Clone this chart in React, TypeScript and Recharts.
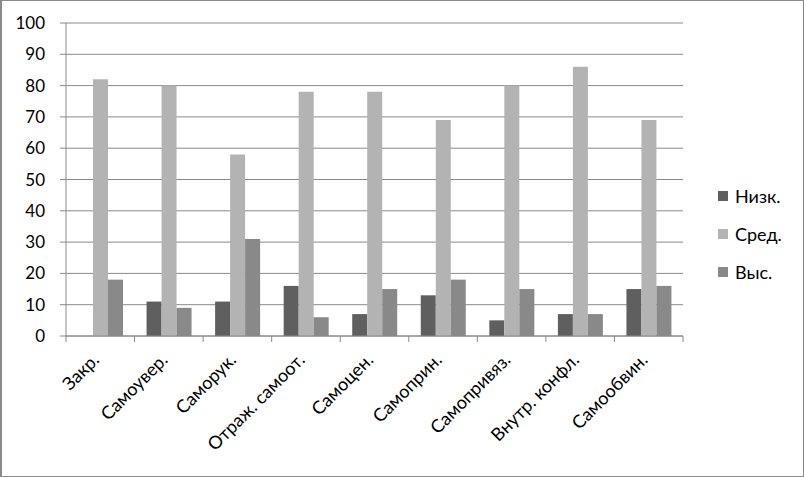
import { BarChart, Bar, XAxis, YAxis, CartesianGrid, Legend } from 'recharts';

const categories = ['Закр.', 'Самоувер.', 'Саморук.', 'Отраж. самоот.', 'Самоцен.', 'Самоприн.', 'Самопривяз.', 'Внутр. конфл.', 'Самообвин.'];
const low = [0, 11, 11, 16, 7, 13, 5, 7, 15];
const mid = [82, 80, 58, 78, 78, 69, 80, 86, 69];
const high = [18, 9, 31, 6, 15, 18, 15, 7, 16];
const yTicks = [0, 10, 20, 30, 40, 50, 60, 70, 80, 90, 100];
// category boundaries (tick marks) and centres (labels) on a 0..9 scale
const xTicks = [0, 0.5, 1, 1.5, 2, 2.5, 3, 3.5, 4, 4.5, 5, 5.5, 6, 6.5, 7, 7.5, 8, 8.5, 9];

const SERIES = [
  { key: 'low', name: 'Низк.', color: '#5f5f5f' },
  { key: 'mid', name: 'Сред.', color: '#b3b3b3' },
  { key: 'high', name: 'Выс.', color: '#898989' },
];

const data = categories.map((name, i) => ({
  name,
  pos: i + 0.5,
  low: low[i],
  mid: mid[i],
  high: high[i],
}));

const MixedTick = ({ x, y, payload }: any) => {
  const v = payload.value;
  if (Number.isInteger(v)) {
    return <line x1={x} y1={y} x2={x} y2={y + 6} stroke="#8a8a8a" />;
  }
  const ax = x;
  const ay = y + 25;
  return (
    <text x={ax} y={ay} textAnchor="end" fontSize={18} fill="#000" transform={`rotate(-45, ${ax}, ${ay})`}>
      {categories[Math.floor(v)]}
    </text>
  );
};

const LegendBox = () => (
  <div style={{ fontSize: 18, color: '#000' }}>
    {SERIES.map((s) => (
      <div key={s.key} style={{ display: 'flex', alignItems: 'center', height: 38 }}>
        <span style={{ width: 10, height: 10, background: s.color, display: 'inline-block', marginRight: 7 }} />
        {s.name}
      </div>
    ))}
  </div>
);

export default function App() {
  return (
    <div
      style={{
        position: 'absolute',
        left: 0,
        top: 0,
        width: 804,
        height: 477,
        boxSizing: 'border-box',
        border: '1px solid #8a8a8a',
        borderLeftWidth: 2,
        background: '#fff',
        fontFamily: 'Lato, "Open Sans", sans-serif',
      }}
    >
      <div style={{ position: 'absolute', left: -2, top: -1 }}>
        <BarChart width={804} height={477} data={data} barSize={15} barGap={0} margin={{ top: 23, right: 121, bottom: 41, left: 0 }}>
          <CartesianGrid vertical={false} stroke="#8a8a8a" />
          <XAxis dataKey="name" hide height={0} />
          <XAxis
            xAxisId="b"
            type="number"
            dataKey="pos"
            domain={[0, 9]}
            ticks={xTicks}
            interval={0}
            height={100}
            tickLine={false}
            tickSize={0}
            tickMargin={0}
            axisLine={{ stroke: '#8a8a8a' }}
            tick={<MixedTick />}
          />
          <YAxis
            width={66}
            domain={[0, 100]}
            ticks={yTicks}
            interval={0}
            tickSize={6}
            tickMargin={15}
            tick={{ fontSize: 17, fill: '#000' }}
            axisLine={{ stroke: '#8a8a8a' }}
            tickLine={{ stroke: '#8a8a8a' }}
          />
          <Legend
            layout="vertical"
            align="center"
            verticalAlign="middle"
            content={<LegendBox />}
            wrapperStyle={{ position: 'absolute', left: 718, top: 177, width: 80 }}
          />
          {SERIES.map((s) => (
            <Bar key={s.key} dataKey={s.key} name={s.name} fill={s.color} isAnimationActive={false} />
          ))}
        </BarChart>
      </div>
    </div>
  );
}
